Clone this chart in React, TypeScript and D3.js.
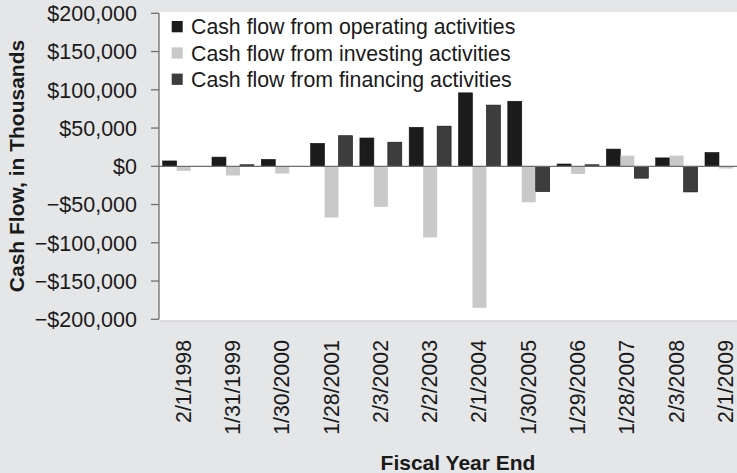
import React from 'react'
import * as d3 from 'd3'

const fiscalYears = ['2/1/1998', '1/31/1999', '1/30/2000', '1/28/2001', '2/3/2002', '2/2/2003',
    '2/1/2004', '1/30/2005', '1/29/2006', '1/28/2007', '2/3/2008', '2/1/2009']

const operating = [7000, 12000, 9000, 30000, 37000, 51000, 96000, 85000, 3000, 22500, 11000, 18000]
const investing = [-6000, -12000, -9500, -67000, -53000, -93000, -185000, -47000, -10000, 14000, 14000, -3000]
const financing = [0, 2000, 0, 40000, 31500, 52500, 80000, -33000, 2000, -15500, -33500, 0]

const seriesNames = ['Cash flow from operating activities', 'Cash flow from investing activities', 'Cash flow from financing activities']
const seriesColors = ['#1b1b1b', '#c9c9c9', '#3d3d3d']
const yTicks = [200000, 150000, 100000, 50000, 0, -50000, -100000, -150000, -200000]

const width = 737, height = 473
const margin = { top: 13.3, left: 159, bottom: 319.3 }
const font = '"Liberation Sans", Arial, Helvetica, sans-serif'

const fmt = (v: number) => (v < 0 ? '\u2212' : '') + '$' + d3.format(',')(Math.abs(v))

export default function App() {
    const series = [operating, investing, financing]

    const y = d3.scaleLinear()
        .domain([-200000, 200000])
        .range([margin.bottom, margin.top])

    // plot runs past the right edge of the picture, like the reference
    const x0 = d3.scaleBand()
        .domain(fiscalYears)
        .range([margin.left, margin.left + 12 * 49.3])
        .paddingInner(0.15)
        .paddingOuter(0.075)

    const x1 = d3.scaleBand()
        .domain(d3.range(series.length).map(String))
        .range([0, x0.bandwidth()])

    return (
        <svg width={width} height={height} style={{ position: 'absolute', left: 0, top: 0, fontFamily: font }}>
            <rect x={0} y={0} width={width} height={height} fill="#e5e6e8" />
            <rect x={margin.left} y={12} width={width - margin.left} height={309} fill="#ffffff" />
            <line x1={margin.left} x2={width} y1={321} y2={321} stroke="#d4d5d7" strokeWidth={1.5} />

            {/* bars */}
            {fiscalYears.map((d, i) => (
                <g key={d} transform={`translate(${x0(d)},0)`}>
                    {series.map((s, j) => {
                        const v = s[i]
                        if (!v) return null
                        return (
                            <rect key={j}
                                x={x1(String(j))}
                                y={y(Math.max(0, v))}
                                width={x1.bandwidth()}
                                height={Math.abs(y(v) - y(0))}
                                fill={seriesColors[j]}
                                stroke={j === 1 ? 'none' : '#111'}
                                strokeWidth={0.6} />
                        )
                    })}
                </g>
            ))}

            {/* zero line */}
            <line x1={margin.left} x2={width} y1={y(0)} y2={y(0)} stroke="#6e6e6e" strokeWidth={1.2} />

            {/* y axis */}
            <line x1={margin.left} x2={margin.left} y1={margin.top} y2={margin.bottom} stroke="#6e6e6e" strokeWidth={1.3} />
            {yTicks.map(t => (
                <g key={t} transform={`translate(0,${y(t)})`}>
                    <line x1={151} x2={margin.left} stroke="#6e6e6e" strokeWidth={1.3} />
                    <text x={137} dy="0.36em" textAnchor="end" fontSize={21.5} fill="#1a1a1a">{fmt(t)}</text>
                </g>
            ))}

            {/* x labels */}
            {fiscalYears.map(d => (
                <text key={d}
                    transform={`translate(${(x0(d) ?? 0) + x0.bandwidth() / 2},340) rotate(-90)`}
                    textAnchor="end" dy="0.33em" fontSize={21.3} fill="#1a1a1a">{d}</text>
            ))}

            {/* axis titles */}
            <text transform="translate(24,166) rotate(-90)" textAnchor="middle" fontSize={21} fontWeight="bold" fill="#1a1a1a">
                Cash Flow, in Thousands
            </text>
            <text x={458} y={470} textAnchor="middle" fontSize={21} fontWeight="bold" fill="#1a1a1a">Fiscal Year End</text>

            {/* legend */}
            {seriesNames.map((n, i) => (
                <g key={n} transform={`translate(171.7,${26.6 + i * 26.3})`}>
                    <rect x={0} y={-5.6} width={11} height={11.3} fill={seriesColors[i]} />
                    <text x={19.3} dy="0.36em" fontSize={21.3} fill="#1a1a1a">{n}</text>
                </g>
            ))}
        </svg>
    )
}
